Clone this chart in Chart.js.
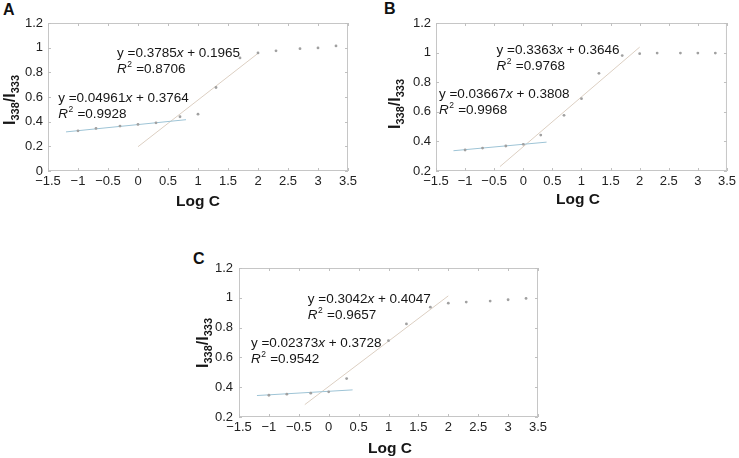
<!DOCTYPE html>
<html><head><meta charset="utf-8">
<script src="https://cdn.jsdelivr.net/npm/chart.js@4.4.1/dist/chart.umd.min.js"></script>
<style>
html,body{margin:0;padding:0;background:#fff;}
body{width:739px;height:458px;position:relative;overflow:hidden;}
canvas{position:absolute;}
.lbl{position:absolute;font:bold 16px "Liberation Sans",Arial,sans-serif;color:#111;line-height:16px;}
</style></head><body>
<div class="lbl" style="left:3px;top:2px">A</div>
<div class="lbl" style="left:384px;top:1px">B</div>
<div class="lbl" style="left:193px;top:251px">C</div>
<canvas id="cA" width="370" height="215" style="left:0;top:0"></canvas>
<canvas id="cB" width="369" height="215" style="left:370px;top:0"></canvas>
<canvas id="cC" width="380" height="238" style="left:190px;top:220px"></canvas>
<script>
// ---- data ----
const logC   = [-1, -0.7, -0.3, 0, 0.3, 0.7, 1, 1.3, 1.7, 2, 2.3, 2.7, 3, 3.3];
const ratioA = [0.326, 0.345, 0.364, 0.378, 0.391, 0.440, 0.461, 0.677, 0.917, 0.957, 0.974, 0.992, 0.998, 1.014];
const ratioB = [0.342, 0.355, 0.369, 0.380, 0.443, 0.576, 0.689, 0.860, 0.980, 0.993, 0.997, 0.997, 0.997, 0.997];
const ratioC = [0.346, 0.353, 0.360, 0.369, 0.458, null, 0.712, 0.825, 0.937, 0.964, 0.971, 0.978, 0.987, 0.996];

const lowFitA_x  = [-1.2, 0.8];  const lowFitA_y  = [0.317, 0.416];
const highFitA_x = [0, 2];       const highFitA_y = [0.197, 0.954];
const lowFitB_x  = [-1.2, 0.4];  const lowFitB_y  = [0.337, 0.395];
const highFitB_x = [-0.4, 2];    const highFitB_y = [0.230, 1.037];
const lowFitC_x  = [-1.2, 0.4];  const lowFitC_y  = [0.344, 0.382];
const highFitC_x = [-0.4, 2];    const highFitC_y = [0.283, 1.013];

const eqHighA = ["0.3785", "0.1965", "0.8706"];
const eqLowA  = ["0.04961", "0.3764", "0.9928"];
const eqHighB = ["0.3363", "0.3646", "0.9768"];
const eqLowB  = ["0.03667", "0.3808", "0.9968"];
const eqHighC = ["0.3042", "0.4047", "0.9657"];
const eqLowC  = ["0.02373", "0.3728", "0.9542"];

const xTitle = "Log C";
const FONT = '"Liberation Sans", Arial, sans-serif';

// ---- decoration plugin: frame, inward ticks, titles, equations ----
const deco = {
  id: 'deco',
  beforeDatasetsDraw(chart, args, o) {
    const {ctx, chartArea: a, scales: {x, y}} = chart;
    ctx.save();
    ctx.strokeStyle = '#c6c6c6'; ctx.lineWidth = 1;
    ctx.strokeRect(a.left + 0.5, a.top + 0.5, a.right - a.left - 1, a.bottom - a.top - 1);
    ctx.strokeStyle = '#c0c0c0';
    ctx.beginPath();
    x.ticks.forEach(t => {
      const p = Math.round(x.getPixelForValue(t.value)) + 0.5;
      ctx.moveTo(p, a.bottom); ctx.lineTo(p, a.bottom - 3);
      ctx.moveTo(p, a.top); ctx.lineTo(p, a.top + 3);
    });
    y.ticks.forEach(t => {
      const p = Math.round(y.getPixelForValue(t.value)) + 0.5;
      ctx.moveTo(a.left, p); ctx.lineTo(a.left + 3, p);
      ctx.moveTo(a.right, p); ctx.lineTo(a.right - 3, p);
    });
    ctx.stroke();
    ctx.restore();
  },
  afterDatasetsDraw(chart, args, o) {
    const {ctx, chartArea: a, scales: {x, y}} = chart;
    ctx.save();
    ctx.fillStyle = '#161616';
    // equations
    o.eqs.forEach(e => {
      let px = x.getPixelForValue(e.x), py = y.getPixelForValue(e.y);
      ctx.textBaseline = 'middle'; ctx.textAlign = 'left';
      const seg = (txt, f) => { ctx.font = f; ctx.fillText(txt, px, py); px += ctx.measureText(txt).width; };
      const n = '13.5px ' + FONT, it = 'italic 13.5px ' + FONT;
      seg('y =' + e.t[0], n); seg('x', it); seg(' + ' + e.t[1], n);
      px = x.getPixelForValue(e.x); py += 16;
      seg('R', it);
      ctx.font = '8.5px ' + FONT; ctx.fillText('2', px + 0.5, py - 4); px += ctx.measureText('2').width + 1;
      seg(' =' + e.t[2], n);
    });
    // x title
    ctx.font = 'bold 15.5px ' + FONT; ctx.textAlign = 'center'; ctx.textBaseline = 'middle';
    ctx.fillText(xTitle, o.xt[0], o.xt[1]);
    // y title with subscripts
    ctx.translate(o.yt[0], o.yt[1]); ctx.rotate(-Math.PI / 2);
    const parts = [['I', 'bold 16px ', 0], ['338', 'bold 11px ', 4], ['/I', 'bold 16px ', 0], ['333', 'bold 11px ', 4]];
    let tot = 0; parts.forEach(p => { ctx.font = p[1] + FONT; tot += ctx.measureText(p[0]).width; });
    let cx = -tot / 2; ctx.textAlign = 'left'; ctx.textBaseline = 'alphabetic';
    parts.forEach(p => { ctx.font = p[1] + FONT; ctx.fillText(p[0], cx, p[2]); cx += ctx.measureText(p[0]).width; });
    ctx.restore();
  }
};

function pts(xs, ys) { return xs.map((v, i) => ({x: v, y: ys[i]})); }
const fmt = v => String(parseFloat(Number(v).toFixed(2))).replace('-', '\u2212');

function makeChart(id, ratio, lowX, lowY, highX, highY, yMin, cfg) {
  return new Chart(document.getElementById(id), {
    type: 'scatter',
    data: {
      datasets: [
        {data: pts(lowX, lowY), showLine: true, borderColor: '#9ec4d6', borderWidth: 1, pointRadius: 0, order: 2},
        {data: pts(highX, highY), showLine: true, borderColor: '#dccfc2', borderWidth: 1, pointRadius: 0, order: 3},
        {data: pts(logC, ratio), showLine: false, pointRadius: 1.4, pointStyle: 'circle',
         backgroundColor: '#a0a0a0', borderColor: '#a0a0a0', borderWidth: 0, order: 1}
      ]
    },
    options: {
      responsive: false, animation: false, devicePixelRatio: 1,
      layout: {padding: {left: 0, top: cfg.top, right: cfg.right, bottom: 0}},
      plugins: {legend: {display: false}, tooltip: {enabled: false}, deco: cfg.deco},
      scales: {
        x: {
          type: 'linear', min: -1.5, max: 3.5,
          grid: {display: false, drawTicks: false}, border: {display: false},
          ticks: {stepSize: 0.5, padding: 3, color: '#222', font: {family: FONT, size: 13},
                  maxRotation: 0, autoSkip: false, callback: fmt},
          afterFit: s => { s.height = cfg.xh; }
        },
        y: {
          type: 'linear', min: yMin, max: 1.2,
          grid: {display: false, drawTicks: false}, border: {display: false},
          ticks: {stepSize: 0.2, padding: cfg.ypad, color: '#222', font: {family: FONT, size: 13},
                  callback: fmt},
          afterFit: s => { s.width = cfg.yw; }
        }
      }
    },
    plugins: [deco]
  });
}

makeChart('cA', ratioA, lowFitA_x, lowFitA_y, highFitA_x, highFitA_y, 0, {
  top: 23, right: 22, xh: 44, yw: 48, ypad: 5,
  deco: {xt: [198, 202], yt: [15, 100],
    eqs: [{x: -0.35, y: 0.957, t: eqHighA}, {x: -1.33, y: 0.592, t: eqLowA}]}
});
makeChart('cB', ratioB, lowFitB_x, lowFitB_y, highFitB_x, highFitB_y, 0.2, {
  top: 23, right: 7, xh: 44, yw: 66, ypad: 5,
  deco: {xt: [208, 200], yt: [30, 104],
    eqs: [{x: -0.46, y: 1.018, t: eqHighB}, {x: -1.45, y: 0.72, t: eqLowB}]}
});
makeChart('cC', ratioC, lowFitC_x, lowFitC_y, highFitC_x, highFitC_y, 0.2, {
  top: 48, right: 32, xh: 41, yw: 49, ypad: 6,
  deco: {xt: [200, 229], yt: [18, 123],
    eqs: [{x: -0.35, y: 0.992, t: eqHighC}, {x: -1.3, y: 0.697, t: eqLowC}]}
});
</script>
</body></html>
